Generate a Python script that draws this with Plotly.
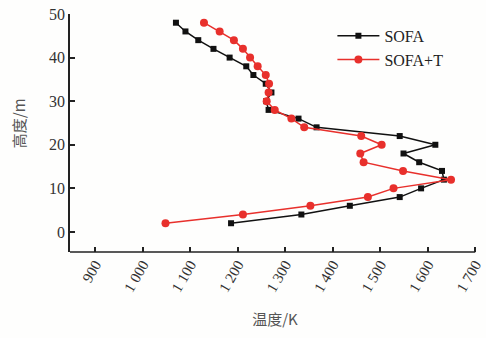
import plotly.graph_objects as go

# Height levels (m)
height = [2, 4, 6, 8, 10, 12, 14, 16, 18, 20, 22, 24,
          26, 28, 30, 32, 34, 36, 38, 40, 42, 44, 46, 48]

# Temperature profiles (K)
temp_sofa = [1186, 1334, 1436, 1541, 1586, 1634, 1630, 1582, 1549, 1616, 1541, 1366,
             1328, 1265, 1260, 1271, 1259, 1233, 1218, 1183, 1149, 1117, 1090, 1070]
temp_sofa_t = [1048, 1211, 1353, 1474, 1528, 1649, 1548, 1465, 1458, 1503, 1460, 1340,
               1313, 1278, 1261, 1265, 1266, 1259, 1242, 1226, 1211, 1192, 1162, 1129]

x_tickvals = [900, 1000, 1100, 1200, 1300, 1400, 1500, 1600, 1700]
x_ticktext = ["900", "1 000", "1 100", "1 200", "1 300", "1 400", "1 500", "1 600", "1 700"]
y_tickvals = [0, 10, 20, 30, 40, 50]

serif = "Liberation Serif, Times New Roman, serif"
cjk = "Noto Sans CJK SC"

fig = go.Figure()
fig.add_trace(go.Scatter(
    x=temp_sofa, y=height, name="SOFA", mode="lines+markers",
    line=dict(color="#111111", width=1.5),
    marker=dict(symbol="square", size=6, color="#111111"),
))
fig.add_trace(go.Scatter(
    x=temp_sofa_t, y=height, name="SOFA+T", mode="lines+markers",
    line=dict(color="#e8302c", width=1.5),
    marker=dict(symbol="circle", size=8, color="#e8302c"),
))

fig.update_layout(
    width=486, height=338,
    margin=dict(l=70, r=2, t=14, b=86),
    paper_bgcolor="#fefefd", plot_bgcolor="#fefefd",
    showlegend=True,
    legend=dict(x=0.64, y=0.98, xanchor="left", yanchor="top",
                font=dict(family=serif, size=16, color="#222"),
                bgcolor="rgba(0,0,0,0)", itemwidth=42, tracegroupgap=4),
)
fig.update_xaxes(
    range=[847, 1710], tickvals=x_tickvals, ticktext=x_ticktext,
    tickangle=-60, ticks="inside", ticklen=5, tickwidth=1.5, tickcolor="#222",
    ticklabeloverflow="allow",
    showline=False, showgrid=False, zeroline=False,
    tickfont=dict(family=serif, size=15, color="#333"),
    title=dict(text="温度/K", font=dict(family=cjk, size=15, color="#555"), standoff=20),
)
# x axis line ends at the 1 700 tick
fig.add_shape(type="line", xref="x", yref="paper", x0=847, x1=1700, y0=0, y1=0,
              line=dict(color="#222", width=1.5))
fig.update_yaxes(
    range=[-4.6, 50], tickvals=y_tickvals,
    ticks="inside", ticklen=5, tickwidth=1.5, tickcolor="#222",
    showline=True, linecolor="#222", linewidth=1.5, showgrid=False, zeroline=False,
    tickfont=dict(family=serif, size=16, color="#333"),
)
# y axis title
fig.add_annotation(text="高度/m", xref="paper", yref="paper", x=-0.125, y=0.54,
                   xanchor="center", yanchor="middle", textangle=-90, showarrow=False,
                   font=dict(family=cjk, size=15, color="#555"))

fig.write_html("out.html")
